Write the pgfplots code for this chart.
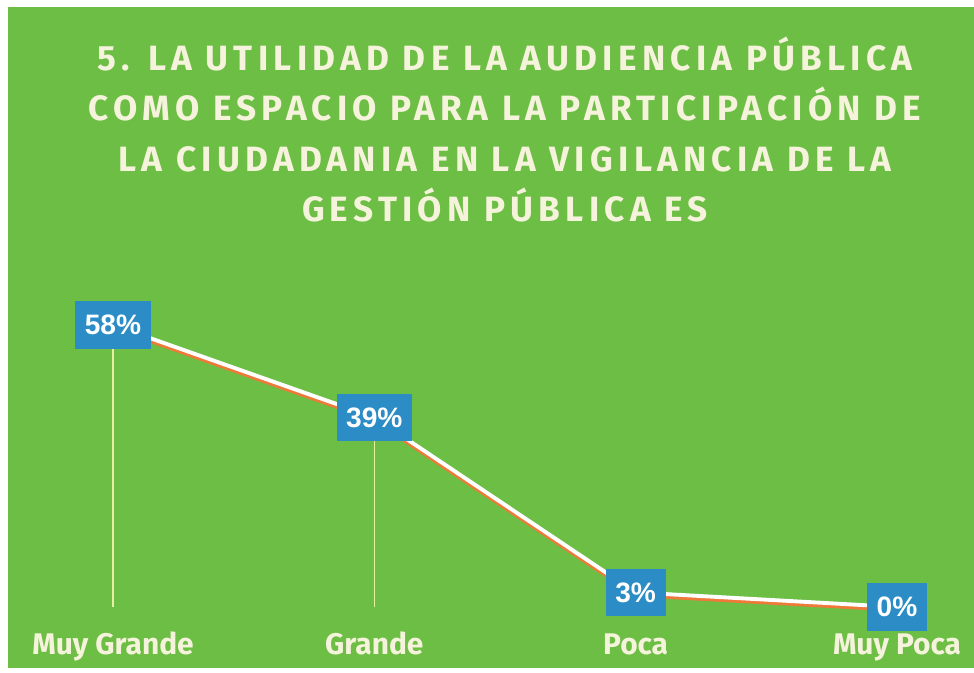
\documentclass[border=0pt]{standalone}
\usepackage{pgfplots}
\pgfplotsset{compat=1.18}
\usepackage{fontspec}
\setmainfont{Fira Sans}
\newfontfamily\boxfont{Liberation Sans}
\definecolor{bggreen}{HTML}{6CBE45}
\definecolor{cream}{HTML}{F6F3DC}
\definecolor{boxblue}{HTML}{2B8CC6}
\definecolor{shadow}{HTML}{EE7A3A}
\definecolor{drop}{HTML}{E6F0A0}
\begin{document}
\begin{tikzpicture}
% page 974 x 673 px, 1 px = 0.02 cm
\fill[white] (0,0) rectangle (19.48,13.46);
\fill[bggreen] (0.16,13.32) rectangle (19.48,0.10);
\node[align=center, text=cream, font=\bfseries\fontsize{20}{28.5}\selectfont\addfontfeatures{LetterSpace=15}]
  at (10.10,10.87) {5. LA UTILIDAD DE LA AUDIENCIA PÚBLICA\\
  COMO ESPACIO PARA LA PARTICIPACIÓN DE\\
  LA CIUDADANIA EN LA VIGILANCIA DE LA\\
  GESTIÓN PÚBLICA ES};
\begin{axis}[
  at={(2.26cm,1.32cm)}, anchor=south west,
  scale only axis, width=15.68cm, height=5.64cm,
  xmin=0, xmax=3, ymin=0, ymax=58,
  clip=false,
  axis line style={draw=none},
  tick style={draw=none},
  ytick=\empty,
  xtick={0,1,2,3},
  xticklabels={Muy Grande, Grande, Poca, Muy Poca},
  x tick label style={anchor=base, yshift=-27.3pt, text=cream,
    font=\bfseries\fontsize{17}{20}\selectfont},
]
\addplot[ycomb, drop, line width=0.6pt, mark=none]
  coordinates {(0,58) (1,39) (2,3) (3,0)};
\addplot[shadow, line width=2.2pt, yshift=-1.6pt, mark=none]
  coordinates {(0,58) (1,39) (2,3) (3,0)};
\addplot[white, line width=2.2pt, mark=none,
  nodes near coords={\pgfplotspointmeta\%},
  nodes near coords style={anchor=center, fill=boxblue, text=white,
    font=\boxfont\bfseries\fontsize{16}{18}\selectfont,
    minimum height=27pt, inner xsep=5.5pt},
  point meta=explicit symbolic]
  coordinates {(0,58) [58] (1,39) [39] (2,3) [3] (3,0) [0]};
\end{axis}
\end{tikzpicture}
\end{document}
